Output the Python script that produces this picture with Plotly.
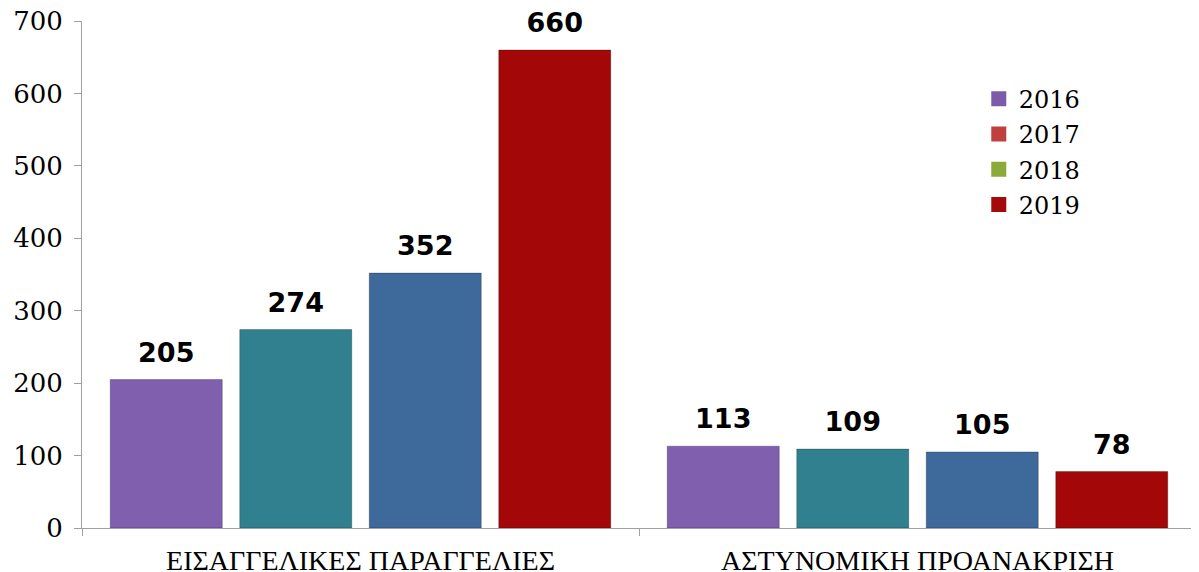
import plotly.graph_objects as go

categories = ['ΕΙΣΑΓΓΕΛΙΚΕΣ ΠΑΡΑΓΓΕΛΙΕΣ', 'ΑΣΤΥΝΟΜΙΚΗ ΠΡΟΑΝΑΚΡΙΣΗ']
years = ['2016', '2017', '2018', '2019']
values_2016 = [205, 113]
values_2017 = [274, 109]
values_2018 = [352, 105]
values_2019 = [660, 78]
series = [values_2016, values_2017, values_2018, values_2019]

bar_colors = ['#7f5fae', '#31808f', '#3d699b', '#a30707']
legend_colors = ['#7c5ca8', '#c0403e', '#8aaa3a', '#a50a0a']

fig = go.Figure()

for year, vals, col in zip(years, series, bar_colors):
    fig.add_trace(go.Bar(
        x=categories,
        y=vals,
        name=year,
        showlegend=False,
        marker=dict(color=col, line=dict(color='rgba(0,0,0,0.25)', width=1)),
        text=vals,
        # small trailing line lifts the label a bit above the bar
        texttemplate='<span style="font-size:27px">%{text}</span><br> ',
        textposition='outside',
        textfont=dict(family='DejaVu Sans', size=10, color='black', weight='bold'),
        cliponaxis=False,
    ))

# legend entries (colours as shown in the original legend)
for year, col in zip(years, legend_colors):
    fig.add_trace(go.Scatter(
        x=[None], y=[None],
        mode='markers',
        name=year,
        legendgroup=year,
        marker=dict(symbol='square', size=15, color=col),
    ))

# page body has an 8px margin, so the figure is a bit smaller than the window
fig.update_layout(
    width=1191,
    height=564,
    margin=dict(l=74, r=3, t=13, b=44),
    plot_bgcolor='white',
    paper_bgcolor='white',
    barmode='group',
    bargap=0.07,
    bargroupgap=0.135,
    font=dict(family='DejaVu Serif', color='black'),
    legend=dict(
        x=0.805, y=0.89, xanchor='left', yanchor='top',
        font=dict(family='DejaVu Serif', size=24),
        itemwidth=30, tracegroupgap=1,
        bgcolor='rgba(0,0,0,0)',
    ),
    xaxis=dict(
        automargin=False,
        showline=True, linecolor='#a0a0a0', linewidth=1,
        ticks='outside', tickson='boundaries', ticklen=7, tickcolor='#a0a0a0',
        tickfont=dict(family='Liberation Serif', size=28),
        ticklabelstandoff=7,
        showgrid=False,
    ),
    yaxis=dict(
        automargin=False,
        range=[0, 700], dtick=100,
        showline=True, linecolor='#a0a0a0', linewidth=1,
        ticks='outside', ticklen=7, tickcolor='#a0a0a0',
        tickfont=dict(family='DejaVu Serif', size=26),
        ticklabelstandoff=6,
        ticklabeloverflow='allow',
        showgrid=False, zeroline=False,
    ),
)

fig.write_html('out.html')
